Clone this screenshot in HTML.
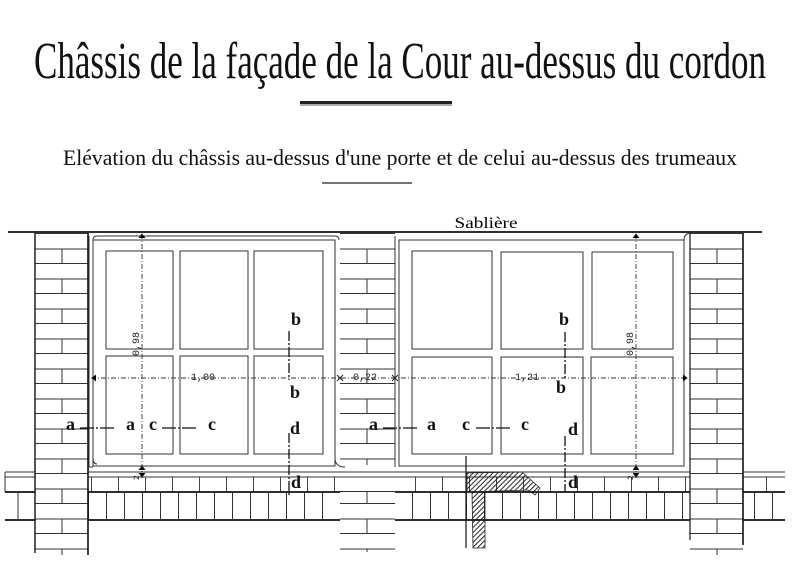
<!DOCTYPE html>
<html><head><meta charset="utf-8"><style>
html,body{margin:0;padding:0;background:#fff;}
svg{display:block}
</style></head><body>
<svg width="800" height="575" viewBox="0 0 800 575" xmlns="http://www.w3.org/2000/svg" font-family="Liberation Serif, serif">
<defs>
<pattern id="brickL" patternUnits="userSpaceOnUse" x="35" y="234" width="53" height="30">
<line x1="0" y1="15" x2="53" y2="15" stroke="#333" stroke-width="1"/>
<line x1="0" y1="29.5" x2="53" y2="29.5" stroke="#333" stroke-width="1"/>
<line x1="27" y1="15" x2="27" y2="30" stroke="#333" stroke-width="1"/>
</pattern>
<pattern id="brickM" patternUnits="userSpaceOnUse" x="340" y="234" width="55" height="30">
<line x1="0" y1="15" x2="55" y2="15" stroke="#333"/>
<line x1="0" y1="29.5" x2="55" y2="29.5" stroke="#333"/>
<line x1="27" y1="15" x2="27" y2="30" stroke="#333"/>
</pattern>
<pattern id="brickR" patternUnits="userSpaceOnUse" x="690" y="234" width="53" height="30">
<line x1="0" y1="15" x2="53" y2="15" stroke="#333"/>
<line x1="0" y1="29.5" x2="53" y2="29.5" stroke="#333"/>
<line x1="27" y1="15" x2="27" y2="30" stroke="#333"/>
</pattern>
<pattern id="vb" patternUnits="userSpaceOnUse" x="88" y="492" width="18" height="28">
<line x1="0.5" y1="0" x2="0.5" y2="28" stroke="#333"/>
</pattern>
<pattern id="sb" patternUnits="userSpaceOnUse" x="91" y="477" width="27" height="15">
<line x1="0.5" y1="0" x2="0.5" y2="15" stroke="#444"/>
</pattern>
<pattern id="hatch" patternUnits="userSpaceOnUse" width="3.5" height="3.5" patternTransform="rotate(45)">
<line x1="0" y1="0" x2="0" y2="4" stroke="#111" stroke-width="1.8"/>
</pattern>
</defs>

<text x="400" y="78" font-size="52" text-anchor="middle" fill="#111" textLength="732" lengthAdjust="spacingAndGlyphs">Châssis de la façade de la Cour au-dessus du cordon</text>
<rect x="300" y="101" width="152" height="3" fill="#222"/>
<line x1="300" y1="105" x2="452" y2="105" stroke="#555" stroke-width="1"/>
<text x="400" y="165" font-size="22" text-anchor="middle" fill="#111" textLength="674" lengthAdjust="spacingAndGlyphs">Elévation du châssis au-dessus d'une porte et de celui au-dessus des trumeaux</text>
<line x1="322" y1="183" x2="412" y2="183" stroke="#222" stroke-width="1.2"/>
<text x="486" y="228" font-size="16" text-anchor="middle" textLength="63" lengthAdjust="spacingAndGlyphs">Sablière</text>

<line x1="8" y1="232" x2="762" y2="232" stroke="#111" stroke-width="1.8"/>

<g stroke="#333" fill="none">
<line x1="5" y1="472" x2="785" y2="472"/>
<line x1="5" y1="477" x2="785" y2="477"/>
<line x1="5" y1="472" x2="5" y2="492"/>
</g>
<rect x="88" y="477" width="252" height="15" fill="url(#sb)"/>
<rect x="395" y="477" width="295" height="15" fill="url(#sb)"/>
<rect x="742" y="477" width="40" height="15" fill="url(#sb)"/>
<line x1="5" y1="492" x2="785" y2="492" stroke="#111" stroke-width="1.8"/>
<line x1="5" y1="520" x2="785" y2="520" stroke="#111" stroke-width="1.8"/>
<line x1="18" y1="492" x2="18" y2="520" stroke="#333"/>
<rect x="88" y="492" width="252" height="28" fill="url(#vb)"/>
<rect x="395" y="492" width="295" height="28" fill="url(#vb)"/>
<rect x="742" y="492" width="40" height="28" fill="url(#vb)"/>

<rect x="35" y="233" width="53" height="322" fill="#fff"/>
<rect x="35" y="233" width="53" height="322" fill="url(#brickL)"/>
<line x1="35" y1="233" x2="35" y2="553" stroke="#111" stroke-width="1.4"/>
<line x1="88" y1="233" x2="88" y2="555" stroke="#111" stroke-width="1.6"/>
<rect x="340" y="233" width="55" height="92" fill="url(#brickM)"/>
<rect x="340" y="325" width="55" height="140" fill="url(#brickM)"/>
<rect x="340" y="492" width="55" height="60" fill="#fff"/>
<rect x="340" y="492" width="55" height="60" fill="url(#brickM)"/>
<rect x="690" y="233" width="53" height="322" fill="#fff"/>
<rect x="690" y="233" width="53" height="322" fill="url(#brickR)"/>
<line x1="690" y1="233" x2="690" y2="540" stroke="#111" stroke-width="1.2"/>
<line x1="743" y1="233" x2="743" y2="545" stroke="#111" stroke-width="1.6"/>

<g fill="none" stroke="#333" stroke-width="1">
<path d="M89 236 L89 467 L93 467"/>
<path d="M93 240 Q93 236 97 236 L335 236 Q339 236 339 240"/>
<path d="M93 240 L93 458 Q93 464 97 464"/>
<path d="M335 240 L335 458 Q335 466 343 467 L345 467"/>
<rect x="93" y="240" width="242" height="226" fill="none"/>
<rect x="106" y="251" width="67" height="98"/>
<rect x="180" y="251" width="68" height="98"/>
<rect x="254" y="251" width="69" height="98"/>
<rect x="106" y="356" width="67" height="98"/>
<rect x="180" y="356" width="68" height="98"/>
<rect x="254" y="356" width="69" height="98"/>
</g>
<g fill="none" stroke="#333" stroke-width="1">
<path d="M395 236 L395 467"/>
<rect x="399" y="240" width="285" height="226"/>
<path d="M684 240 Q684 234 690 233"/>
<rect x="412" y="251" width="80" height="98"/>
<rect x="501" y="252" width="82" height="97"/>
<rect x="592" y="252" width="81" height="97"/>
<rect x="412" y="357" width="80" height="97"/>
<rect x="501" y="357" width="82" height="97"/>
<rect x="591" y="357" width="82" height="97"/>
</g>

<g stroke="#333" stroke-width="0.9" fill="none" stroke-dasharray="5,2,1,2">
<line x1="142" y1="234" x2="142" y2="478"/>
<line x1="91" y1="378" x2="688" y2="378"/>
<line x1="636" y1="234" x2="636" y2="478"/>
</g>
<g font-family="Liberation Mono, monospace" font-size="10" fill="#222">
<text x="191" y="380">1,00</text>
<text x="353" y="380">0,22</text>
<text x="515" y="380">1,21</text>
<text transform="translate(139,356) rotate(-90)">0,98</text>
<text transform="translate(633,356) rotate(-90)">0,98</text>
<text transform="translate(139,480) rotate(-90)" font-size="8">2</text>
<text transform="translate(633,480) rotate(-90)" font-size="8">2</text>
</g>
<g stroke="#222" stroke-width="0.9">
<path d="M139 238 L142 234 L145 238 M139 470 L142 466 L145 470 M139 473 L142 477 L145 473"/>
<path d="M633 238 L636 234 L639 238 M633 470 L636 466 L639 470 M633 473 L636 477 L639 473"/>
<path d="M337 375 L343 381 M343 375 L337 381 M392 375 L398 381 M398 375 L392 381"/>
<path d="M96 375 L92 378 L96 381 M683 375 L687 378 L683 381"/>
</g>

<g stroke="#111" stroke-width="1.3">
<line x1="80" y1="428" x2="128" y2="428" stroke-dasharray="14,2,2,2,14"/>
<line x1="162" y1="428" x2="204" y2="428" stroke-dasharray="14,2,2,2,14"/>
<line x1="289" y1="331" x2="289" y2="380" stroke-dasharray="10,2,2,2"/>
<line x1="289" y1="433" x2="289" y2="497" stroke-dasharray="10,2,2,2"/>
<line x1="383" y1="428" x2="428" y2="428" stroke-dasharray="14,2,2,2,14"/>
<line x1="476" y1="428" x2="520" y2="428" stroke-dasharray="14,2,2,2,14"/>
<line x1="565" y1="332" x2="565" y2="380" stroke-dasharray="10,2,2,2"/>
<line x1="565" y1="436" x2="565" y2="492" stroke-dasharray="10,2,2,2"/>
</g>
<g font-size="18" font-weight="bold" fill="#111">
<text x="66" y="430">a</text><text x="126" y="430">a</text>
<text x="149" y="430">c</text><text x="208" y="430">c</text>
<text x="291" y="325">b</text><text x="290" y="398">b</text>
<text x="290" y="434">d</text><text x="291" y="488">d</text>
<text x="369" y="430">a</text><text x="427" y="430">a</text>
<text x="462" y="430">c</text><text x="521" y="430">c</text>
<text x="559" y="325">b</text><text x="556" y="393">b</text>
<text x="568" y="435">d</text><text x="568" y="488">d</text>
</g>

<line x1="466" y1="456" x2="466" y2="548" stroke="#111" stroke-width="1.2"/>
<path d="M467 473 L522 472 L540 488 L535 495 L528 490 L472 492 L467 492 Z" fill="url(#hatch)" stroke="#222" stroke-width="0.8"/>
<path d="M472 492 L485 492 L485 548 L473 548 Z" fill="url(#hatch)" stroke="#222" stroke-width="0.8"/>
</svg>
</body></html>
